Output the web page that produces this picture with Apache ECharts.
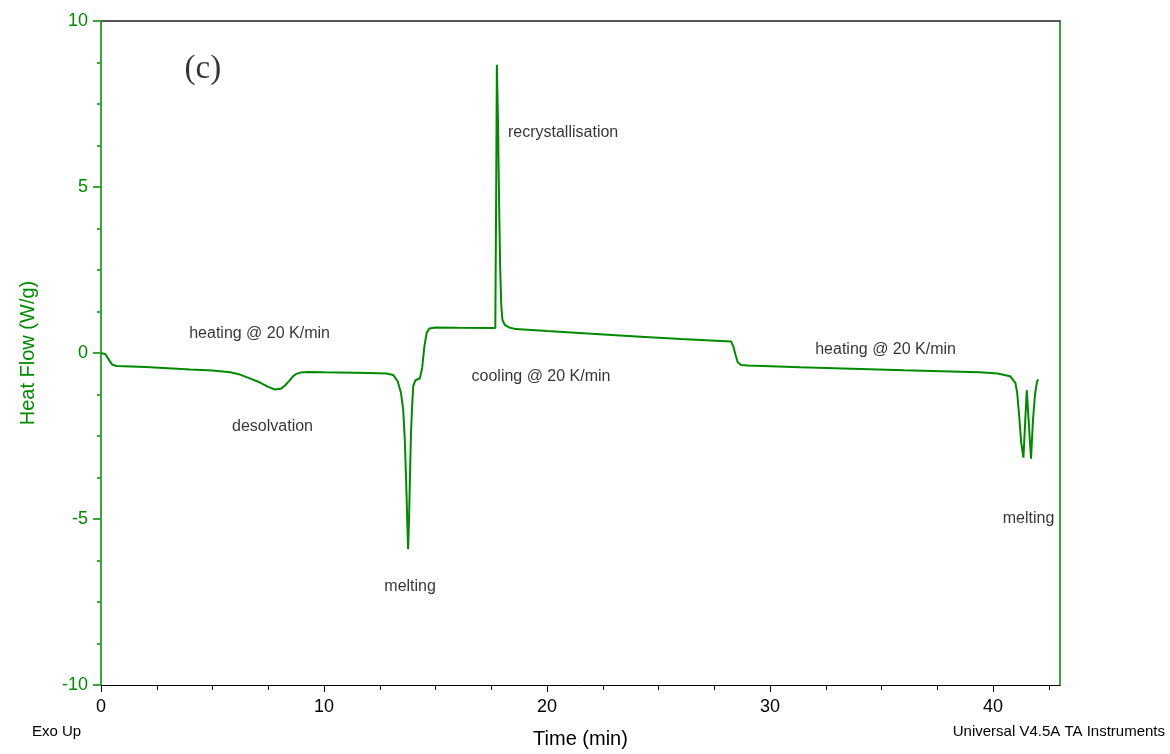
<!DOCTYPE html>
<html>
<head>
<meta charset="utf-8">
<script src="https://cdn.jsdelivr.net/npm/echarts@6/dist/echarts.min.js"></script>
<style>
  html, body { margin: 0; padding: 0; background: #fff; }
  #chart { width: 1170px; height: 754px; }
</style>
</head>
<body>
<div id="chart"></div>
<script>
// DSC trace: time (min) and heat flow (W/g)
const timeMin = [
  0, 0.2, 0.35, 0.5, 0.7, 2, 4, 5, 5.8, 6.23, 6.7, 7.13, 7.5, 7.8, 8.05, 8.25, 8.45, 8.6, 8.75, 8.95, 9.3,
  10, 12, 12.8, 13.1, 13.3, 13.45, 13.55, 13.62, 13.68, 13.73, 13.77, 13.82, 13.86, 13.9, 13.95,
  14.0, 14.1, 14.3, 14.4, 14.5, 14.6, 14.72, 15, 16, 17.68,
  17.72, 17.75, 17.8, 17.85, 17.9, 17.95, 18.0, 18.1, 18.3, 18.6,
  20, 22, 24, 26, 28.25, 28.35, 28.45, 28.55, 28.7, 29,
  31.35, 36, 39.4, 40.2, 40.76, 41.0, 41.08, 41.17, 41.26, 41.36, 41.43, 41.51,
  41.59, 41.66, 41.7, 41.79, 41.88, 41.97, 42.03
];
const heatFlow = [
  0, -0.04, -0.2, -0.35, -0.39, -0.42, -0.5, -0.53, -0.58, -0.65, -0.77, -0.89, -1.02, -1.1, -1.08, -0.98, -0.83, -0.71, -0.63, -0.59, -0.57,
  -0.58, -0.6, -0.62, -0.66, -0.85, -1.2, -1.7, -2.6, -3.8, -5.0, -5.91, -4.8, -3.5, -2.4, -1.6,
  -1.0, -0.82, -0.76, -0.45, 0.2, 0.6, 0.74, 0.77, 0.76, 0.75,
  5.0, 8.68, 7.0, 4.5, 2.5, 1.4, 1.0, 0.85, 0.77, 0.72,
  0.66, 0.58, 0.5, 0.42, 0.35, 0.2, -0.05, -0.28, -0.36, -0.38,
  -0.43, -0.52, -0.58, -0.62, -0.7, -0.9, -1.2, -1.9, -2.7, -3.15, -2.2, -1.12,
  -2.0, -2.75, -3.18, -2.0, -1.25, -0.86, -0.8
];

// annotations placed in data units (time, heat flow)
const noteText = ['heating @ 20 K/min', 'desolvation', 'melting', 'recrystallisation',
  'cooling @ 20 K/min', 'heating @ 20 K/min', 'melting'];
const noteTime = [7.11, 7.69, 13.86, 20.72, 19.73, 35.18, 41.59];
const noteFlow = [0.59, -2.21, -7.03, 6.63, -0.71, 0.1, -4.98];
const panelTag = '(c)';
const panelPos = [4.57, 8.53];

const xTicks = [0, 10, 20, 30, 40];
const yTicks = [-10, -5, 0, 5, 10];

const green = '#008a00';
const axisGreen = '#3aa63a';
const font = 'Liberation Sans, Arial, sans-serif';

const chart = echarts.init(document.getElementById('chart'), null, { renderer: 'canvas' });

const option = {
  animation: false,
  backgroundColor: '#fff',
  grid: { left: 101, right: 110, top: 21, bottom: 68 },
  xAxis: [{
    type: 'value',
    min: 0, max: 43, interval: 10,
    name: 'Time (min)',
    nameLocation: 'middle',
    nameGap: 44,
    nameTextStyle: { color: '#000', fontSize: 20, fontFamily: font },
    axisLine: { onZero: false, lineStyle: { color: '#000', width: 1 } },
    axisTick: { length: 7, lineStyle: { color: '#000' }, customValues: xTicks },
    minorTick: { show: true, splitNumber: 4, length: 5, lineStyle: { color: '#000' } },
    axisLabel: { color: '#000', fontSize: 18, fontFamily: font, margin: 13, customValues: xTicks },
    splitLine: { show: false }
  }, {
    type: 'value', position: 'top', min: 0, max: 43,
    axisLine: { show: true, onZero: false, lineStyle: { color: '#555', width: 2 } },
    axisTick: { show: false }, axisLabel: { show: false }, splitLine: { show: false }
  }],
  yAxis: [{
    type: 'value',
    min: -10, max: 10, interval: 5,
    name: 'Heat Flow (W/g)',
    nameLocation: 'middle',
    nameGap: 63,
    nameTextStyle: { color: green, fontSize: 20, fontFamily: font },
    axisLine: { show: true, onZero: false, lineStyle: { color: axisGreen, width: 2 } },
    axisTick: { show: true, length: 8, lineStyle: { color: axisGreen, width: 2 } },
    minorTick: { show: true, splitNumber: 4, length: 4, lineStyle: { color: axisGreen, width: 2 } },
    axisLabel: { color: green, fontSize: 18, fontFamily: font, margin: 13, customValues: yTicks },
    splitLine: { show: false }
  }, {
    type: 'value', position: 'right', min: -10, max: 10,
    axisLine: { show: true, onZero: false, lineStyle: { color: axisGreen, width: 2 } },
    axisTick: { show: false }, axisLabel: { show: false }, splitLine: { show: false }
  }],
  series: [{
    type: 'line',
    data: timeMin.map((t, i) => [t, heatFlow[i]]),
    showSymbol: false,
    lineStyle: { color: green, width: 2 },
    itemStyle: { color: green },
    silent: true,
    z: 3
  }, {
    type: 'scatter',
    symbolSize: 0,
    silent: true,
    data: noteText.map((s, i) => ({ value: [noteTime[i], noteFlow[i]], name: s })),
    label: {
      show: true, position: 'inside', formatter: p => p.name,
      color: '#000', fontSize: 16, fontFamily: font
    }
  }, {
    type: 'scatter',
    symbolSize: 0,
    silent: true,
    data: [{ value: panelPos, name: panelTag }],
    label: {
      show: true, position: 'inside', formatter: p => p.name,
      color: '#000', fontSize: 33, fontFamily: 'Liberation Serif, Times New Roman, serif'
    }
  }],
  graphic: [{
    type: 'text', left: 32, top: 724,
    style: { text: 'Exo Up', fill: '#000', font: '15px ' + font }
  }, {
    type: 'text', right: 5, top: 724,
    style: { text: 'Universal V4.5A TA Instruments', fill: '#000', font: '15px ' + font }
  }]
};

chart.setOption(option);
</script>
</body>
</html>
